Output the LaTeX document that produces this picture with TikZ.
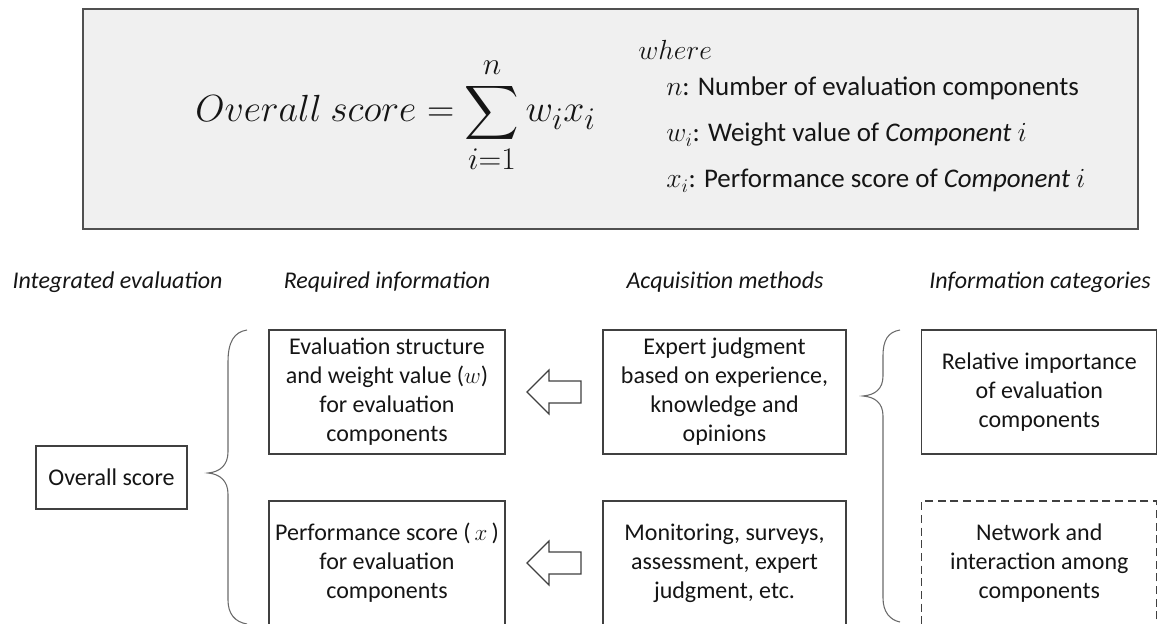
\documentclass[tikz,border=0pt]{standalone}
\usepackage{graphicx}
\usepackage{exscale}
\usepackage{fontspec}
\setmainfont{Carlito}
\usetikzlibrary{calc}
\definecolor{boxfill}{HTML}{F0F0F0}
\definecolor{edge}{HTML}{404040}
\definecolor{topedge}{HTML}{505050}
\definecolor{bracecol}{HTML}{6A6A6A}
\definecolor{ink}{HTML}{151515}
\tikzset{
  txt/.style={inner sep=0pt, text=ink, font=\fontsize{18}{21.75}\selectfont},
  itemtxt/.style={inner sep=0pt, text=ink, font=\fontsize{20.2}{24}\selectfont},
  header/.style={txt, font=\fontsize{18}{21.75}\selectfont\itshape},
  infobox/.style={draw=edge, line width=1.1pt, inner sep=0pt, align=center, text=ink,
    font=\fontsize{18}{21.75}\selectfont},
  reqbox/.style={infobox, minimum width=177pt, minimum height=93pt},
  acqbox/.style={infobox, minimum width=182.25pt, minimum height=93pt},
  catbox/.style={infobox, minimum width=176.25pt, minimum height=93pt},
  topbox/.style={draw=topedge, fill=boxfill, line width=1.5pt, inner sep=0pt,
    minimum width=791.25pt, minimum height=165pt},
  blockarrow/.style={draw=edge, line width=0.9pt, fill=white, line join=miter},
  bracestyle/.style={draw=bracecol, line width=0.8pt}
}
\begin{document}
\begin{tikzpicture}[x=0.75pt,y=-0.75pt]
\useasboundingbox (0,0) rectangle (1158,624);
\clip (0,0) rectangle (1158,624);

% top formula box
\node[topbox] (top) at (610.5,119) {};
\node[txt, anchor=base west] (formula) at (195,122)
  {\scalebox{1.14}{\fontsize{24.88}{30}\selectfont $\displaystyle Overall\ score=\sum_{i=1}^{n}w_ix_i$}};
\node[itemtxt, anchor=base west] (where) at (638,60) {$where$};
\node[itemtxt, anchor=base west] (itemn) at (666,96) {$n$: Number of evaluation components};
\node[itemtxt, anchor=base west] (itemw) at (666,142) {$w_i$: Weight value of \textit{Component} $i$};
\node[itemtxt, anchor=base west] (itemx) at (666,188) {$x_i$: Performance score of \textit{Component} $i$};

% headers
\node[header] (h1) at (117.5,282) {Integrated evaluation};
\node[header] (h2) at (387,282) {Required information};
\node[header] (h3) at (725,282) {Acquisition methods};
\node[header] (h4) at (1040,282) {Information categories};

% boxes
\node[infobox, minimum width=113.25pt, minimum height=47.25pt] (overall) at (111.5,477.5) {Overall score};
\node[reqbox] (req1) at (387,392) {Evaluation structure\\and weight value ($w$)\\for evaluation\\components};
\node[reqbox] (req2) at (387,563) {Performance score (\,$x$\,)\\for evaluation\\components};
\node[acqbox] (acq1) at (724.5,392) {Expert judgment\\based on experience,\\knowledge and\\opinions};
\node[acqbox] (acq2) at (724.5,563) {Monitoring, surveys,\\assessment, expert\\judgment, etc.};
\node[catbox] (cat1) at (1039.25,392) {Relative importance\\of evaluation\\components};
\node[catbox, dashed, dash pattern=on 6pt off 3.5pt] (cat2) at (1039.25,563) {Network and\\interaction among\\components};

% block arrows
\coordinate (a1) at ($(req1.east)!0.5!(acq1.west)$);
\coordinate (a2) at ($(req2.east)!0.5!(acq2.west)$);
\foreach \c in {a1,a2}{
  \draw[blockarrow] (\c) ++(-27,0) -- ++(22,-22) -- ++(0,11) -- ++(32,0) -- ++(0,22)
    -- ++(-32,0) -- ++(0,11) -- cycle;
}

% braces
\draw[bracestyle] (247,330) .. controls (234,332) and (228,342) .. (228,362)
  -- (228,452) .. controls (228,465) and (220,472) .. (208,473)
  .. controls (220,474) and (228,481) .. (228,494)
  -- (228,600) .. controls (228,614) and (235,622) .. (247,624);
\draw[bracestyle] (900,330) .. controls (888,332) and (883,340) .. (883,356)
  -- (883,376) .. controls (883,389) and (875,395) .. (863,396)
  .. controls (875,397) and (883,403) .. (883,416)
  -- (883,598) .. controls (883,612) and (890,620) .. (900,622);
\end{tikzpicture}
\end{document}
